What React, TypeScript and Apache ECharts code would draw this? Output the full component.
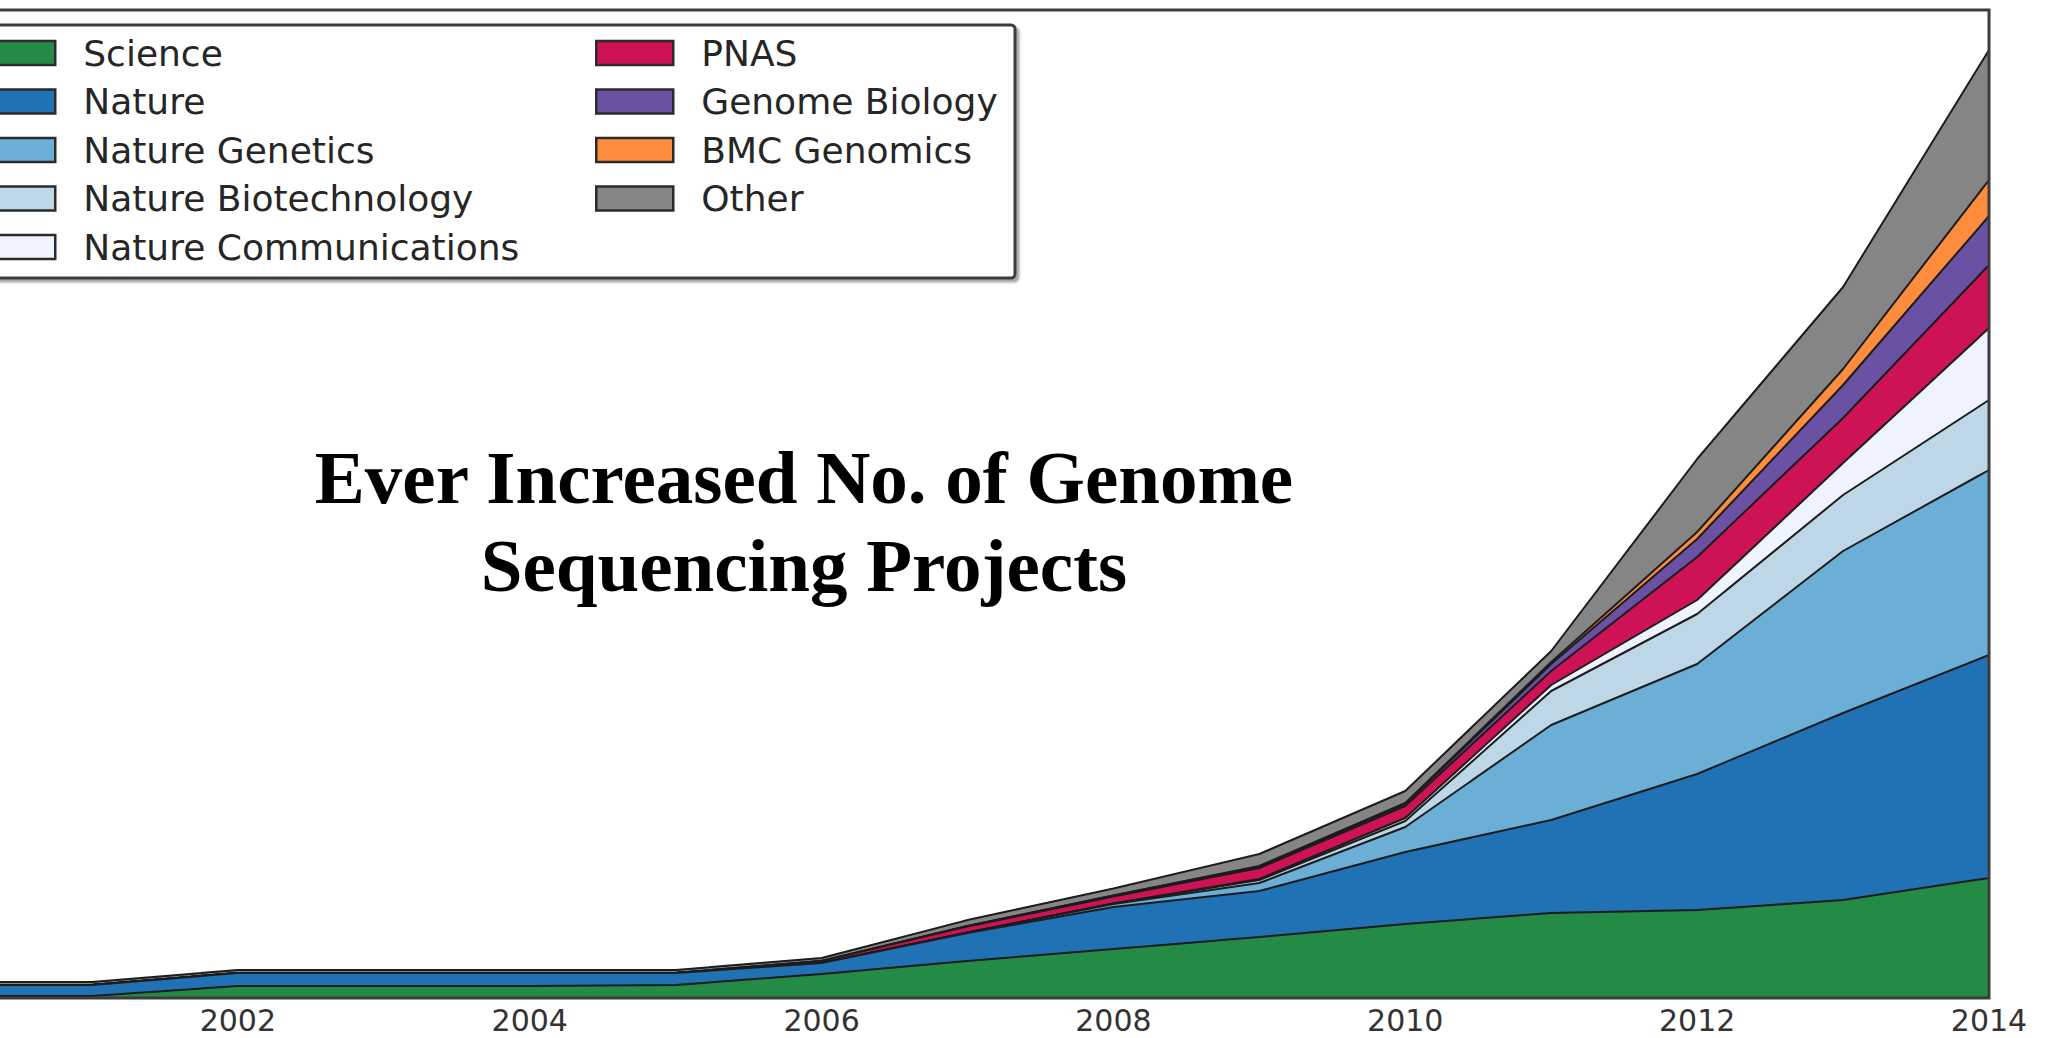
import React, { useEffect, useRef } from "react";
import * as echarts from "echarts";

const years = ["2000", "2001", "2002", "2003", "2004", "2005", "2006", "2007", "2008", "2009", "2010", "2011", "2012", "2013", "2014"];

const seriesNames = [
  "Science",
  "Nature",
  "Nature Genetics",
  "Nature Biotechnology",
  "Nature Communications",
  "PNAS",
  "Genome Biology",
  "BMC Genomics",
  "Other",
];

const seriesColors = ["#238b45", "#2171b5", "#6baed6", "#bdd7e7", "#eff3ff", "#ce1256", "#6a51a3", "#fd8d3c", "#858585"];

const science = [2, 2, 12, 12, 12, 13, 24, 37, 49, 61, 74, 85, 88, 98, 120];
const nature = [11, 11, 13, 13, 13, 12, 11, 28, 42, 46, 72, 93, 136, 187, 223];
const natureGenetics = [0, 0, 0, 0, 0, 0, 0, 0.5, 3, 8, 25, 95, 110, 162, 185];
const natureBiotechnology = [0, 0, 0, 0, 0, 0, 0, 0, 0.5, 3, 6, 34, 50, 56, 70];
const natureCommunications = [0, 0, 0, 0, 0, 0, 0, 0, 0, 1, 3, 6, 14, 32, 72];
const pnas = [0, 0, 0, 0, 0, 0, 2, 6, 7, 11, 12, 14, 43, 45, 63];
const genomeBiology = [0, 0, 0, 0, 0, 0, 0, 0.5, 1, 1.5, 2, 7, 18, 33, 49];
const bmcGenomics = [0, 0, 0, 0, 0, 0, 0, 0, 0, 0.5, 1, 2, 7, 16, 36];
const other = [3, 3, 3, 3, 3, 3, 3, 6, 7, 12, 12, 11, 73, 82, 130];

const seriesValues = [
  science,
  nature,
  natureGenetics,
  natureBiotechnology,
  natureCommunications,
  pnas,
  genomeBiology,
  bmcGenomics,
  other,
];

const titleLines = ["Ever Increased No. of Genome", "Sequencing Projects"];

// the chart canvas is shifted left so that the year 2000 lies just outside the page
const SHIFT = 54;

export default function App() {
  const ref = useRef<HTMLDivElement>(null);

  useEffect(() => {
    if (!ref.current) return;
    const chart = echarts.init(ref.current, null, { renderer: "svg" });

    const series = seriesNames.map((name, i) => ({
      name,
      type: "line",
      stack: "total",
      data: seriesValues[i],
      symbol: "none",
      smooth: false,
      z: 20 - i,
      lineStyle: { color: "#1c1c1c", width: 2 },
      areaStyle: { color: seriesColors[i], opacity: 1 },
      itemStyle: { color: seriesColors[i] },
      emphasis: { disabled: true },
    }));

    const legendCommon = {
      orient: "vertical",
      icon: "rect",
      itemWidth: 77,
      itemHeight: 24,
      itemGap: 12.5,
      padding: 0,
      top: 35,
      selectedMode: false,
      itemStyle: { borderColor: "#2b2b2b", borderWidth: 2.5 },
      textStyle: {
        fontFamily: "DejaVu Sans",
        fontSize: 36,
        color: "#262626",
        lineHeight: 36,
        padding: [0, 0, 0, 23],
      },
    };

    const legendData = seriesNames.map((name, i) => ({
      name,
      itemStyle: { color: seriesColors[i], borderColor: "#2b2b2b", borderWidth: 2.5 },
    }));

    chart.setOption({
      animation: false,
      backgroundColor: "#ffffff",
      grid: {
        show: true,
        z: 30,
        left: 0,
        right: 64,
        top: 10,
        bottom: 40,
        backgroundColor: "transparent",
        borderColor: "#3d3d3d",
        borderWidth: 3,
      },
      legend: [
        { ...legendCommon, left: SHIFT - 23, data: legendData.slice(0, 5) },
        { ...legendCommon, left: SHIFT + 595, data: legendData.slice(5) },
      ],
      xAxis: {
        type: "category",
        data: years,
        boundaryGap: false,
        axisLine: { show: false },
        axisTick: { show: false },
        splitLine: { show: false },
        axisLabel: {
          interval: (index: number) => index % 2 === 0 && index > 0,
          fontFamily: "DejaVu Sans",
          fontSize: 30,
          color: "#333333",
          margin: 7,
        },
      },
      yAxis: {
        type: "value",
        min: 0,
        max: 988,
        show: false,
        splitLine: { show: false },
      },
      graphic: [
        {
          type: "rect",
          z: 3,
          shape: { x: SHIFT - 40, y: 25, width: 1055, height: 253, r: 4 },
          style: {
            fill: "#ffffff",
            stroke: "#3c3c3c",
            lineWidth: 3,
            shadowColor: "rgba(0,0,0,0.35)",
            shadowOffsetX: 3,
            shadowOffsetY: 3,
            shadowBlur: 2,
          },
        },
        ...titleLines.map((line, i) => ({
          type: "text",
          z: 40,
          x: SHIFT + 804,
          y: 477 + i * 88,
          style: {
            text: line,
            fill: "#000000",
            fontFamily: "Liberation Serif",
            fontWeight: "bold",
            fontSize: 75,
            align: "center",
            verticalAlign: "middle",
          },
        })),
      ],
      series,
    });

    return () => chart.dispose();
  }, []);

  return (
    <div
      ref={ref}
      style={{ position: "fixed", left: -SHIFT, top: 0, width: 2053 + SHIFT, height: 1038, background: "#fff" }}
    />
  );
}
